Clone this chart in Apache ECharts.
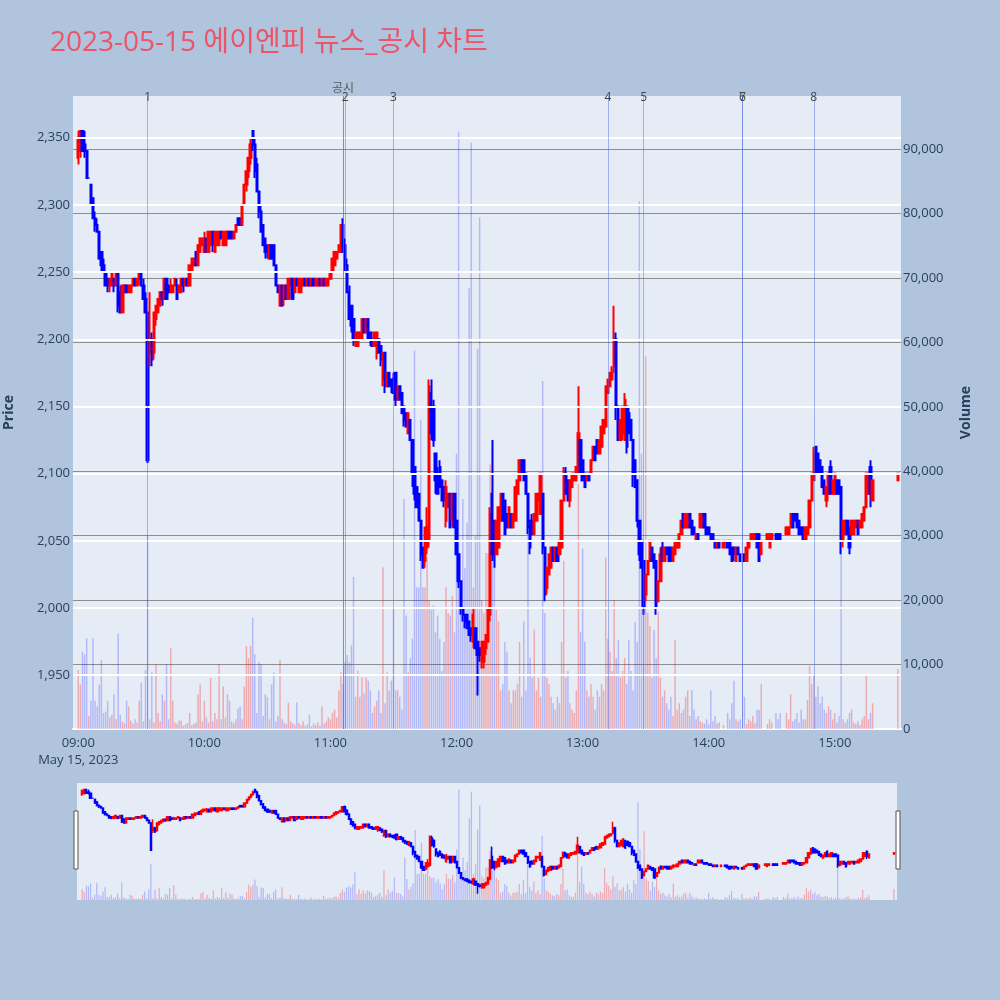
<!DOCTYPE html>
<html><head><meta charset="utf-8">
<script src="https://cdn.jsdelivr.net/npm/echarts@6/dist/echarts.min.js"></script>
<style>html,body{margin:0;padding:0;background:#B0C4DE}#c{width:1000px;height:1000px}</style>
</head><body><div id="c"></div>
<script>
// ---- data (one row per minute from 09:00; [open, close, low, high]) ----
const firstCategory = '08:58';
const categoryCount = 394;
const dataStart = '09:00';
const candles = [
[2335,2350,2330,2355],[2340,2355,2335,2355],[2355,2340,2340,2355],[2345,2340,2335,2355],[2340,2320,2320,2340],
[2320,2320,2320,2320],[2315,2300,2300,2315],[2305,2290,2290,2305],[2290,2285,2280,2295],[2285,2280,2280,2290],
[2280,2260,2260,2280],[2265,2255,2250,2265],[2255,2250,2250,2260],[2250,2240,2240,2250],[2245,2240,2235,2245],
[2240,2245,2235,2245],[2240,2250,2240,2250],[2245,2240,2235,2245],[2240,2250,2240,2250],[2250,2225,2220,2250],
[2235,2220,2220,2240],[2220,2240,2220,2240],[2235,2240,2235,2240],[2240,2235,2235,2240],[2235,2240,2235,2240],
[2235,2240,2235,2240],[2240,2245,2240,2245],[2245,2240,2240,2245],[2240,2245,2240,2245],[2245,2250,2240,2250],
[2250,2240,2240,2250],[2240,2230,2230,2245],[2230,2220,2220,2235],[2220,2110,2108,2220],[2190,2200,2180,2235],
[2200,2185,2180,2205],[2190,2220,2185,2220],[2215,2225,2210,2225],[2220,2230,2220,2230],[2225,2235,2225,2235],
[2235,2230,2225,2235],[2230,2245,2230,2245],[2245,2230,2230,2245],[2240,2235,2235,2240],[2235,2240,2235,2245],
[2235,2240,2235,2240],[2240,2245,2240,2245],[2240,2230,2230,2245],[2235,2240,2235,2240],[2235,2245,2235,2245],
[2245,2240,2235,2245],[2240,2245,2240,2245],[2245,2240,2240,2245],[2240,2255,2240,2255],[2250,2260,2250,2260],
[2255,2260,2255,2260],[2265,2255,2255,2265],[2255,2270,2255,2270],[2265,2275,2265,2275],[2270,2275,2270,2275],
[2265,2275,2265,2280],[2275,2265,2265,2275],[2265,2280,2265,2280],[2270,2280,2270,2280],[2280,2270,2265,2280],
[2265,2280,2265,2280],[2270,2280,2270,2280],[2270,2280,2270,2280],[2280,2275,2275,2280],[2270,2280,2270,2280],
[2270,2280,2270,2280],[2275,2280,2275,2280],[2280,2275,2275,2280],[2280,2275,2275,2280],[2275,2280,2275,2280],
[2280,2285,2280,2285],[2290,2285,2285,2290],[2290,2285,2285,2290],[2285,2300,2285,2300],[2300,2315,2300,2315],
[2315,2325,2310,2325],[2325,2335,2320,2335],[2335,2345,2330,2350],[2355,2345,2340,2355],[2345,2325,2320,2350],
[2330,2310,2310,2335],[2310,2295,2290,2310],[2295,2280,2280,2300],[2285,2270,2270,2285],[2275,2265,2260,2275],
[2270,2265,2260,2270],[2260,2270,2260,2270],[2270,2260,2260,2270],[2270,2255,2255,2270],[2255,2240,2240,2255],
[2240,2235,2235,2240],[2225,2240,2225,2240],[2240,2225,2225,2240],[2230,2240,2225,2240],[2240,2230,2230,2240],
[2230,2245,2230,2245],[2240,2245,2240,2245],[2245,2230,2230,2245],[2235,2245,2235,2245],[2245,2240,2240,2245],
[2235,2245,2235,2245],[2235,2245,2235,2245],[2240,2245,2240,2245],[2245,2240,2240,2245],[2240,2245,2240,2245],
[2245,2240,2240,2245],[2240,2245,2240,2245],[2245,2240,2240,2245],[2240,2245,2240,2245],[2240,2245,2240,2245],
[2245,2240,2240,2245],[2240,2245,2240,2245],[2245,2240,2240,2245],[2240,2245,2240,2245],[2240,2245,2240,2245],
[2245,2250,2245,2250],[2250,2260,2250,2260],[2255,2265,2255,2265],[2260,2265,2260,2265],[2265,2270,2265,2270],
[2265,2285,2265,2285],[2285,2265,2265,2290],[2270,2255,2250,2275],[2255,2235,2235,2260],[2235,2215,2215,2240],
[2225,2210,2205,2225],[2215,2200,2195,2215],[2195,2205,2195,2205],[2195,2205,2195,2205],[2200,2205,2200,2205],
[2200,2215,2200,2215],[2215,2205,2205,2215],[2205,2215,2205,2215],[2215,2200,2200,2215],[2205,2200,2195,2205],
[2200,2195,2195,2200],[2195,2205,2195,2205],[2190,2205,2185,2205],[2200,2190,2190,2200],[2195,2185,2180,2195],
[2170,2190,2165,2190],[2190,2165,2160,2190],[2165,2175,2165,2175],[2175,2165,2165,2175],[2170,2165,2160,2170],
[2170,2160,2160,2175],[2175,2155,2150,2175],[2155,2165,2155,2165],[2165,2155,2155,2165],[2160,2145,2145,2160],
[2150,2140,2135,2150],[2145,2135,2135,2145],[2130,2145,2130,2145],[2140,2125,2125,2140],[2125,2100,2090,2125],
[2105,2085,2080,2105],[2090,2075,2075,2090],[2085,2065,2065,2085],[2065,2040,2035,2065],[2045,2030,2030,2045],
[2035,2060,2030,2060],[2045,2060,2040,2075],[2050,2165,2045,2170],[2160,2130,2125,2170],[2150,2125,2120,2155],
[2115,2095,2085,2115],[2100,2085,2085,2105],[2105,2090,2090,2110],[2095,2080,2080,2095],[2090,2080,2075,2090],
[2065,2090,2060,2095],[2075,2085,2075,2085],[2085,2060,2060,2085],[2065,2085,2060,2085],[2085,2060,2060,2085],
[2065,2040,2040,2065],[2040,2020,2015,2040],[2020,2000,1995,2020],[2000,1995,1990,2000],[1995,1990,1985,1995],
[1995,1985,1985,1995],[1990,1980,1980,1990],[1985,1980,1975,1985],[1975,1995,1970,2000],[1985,1970,1970,1985],
[1975,1965,1935,1975],[1970,1965,1960,1970],[1960,1975,1955,1975],[1960,1975,1955,1975],[1970,1980,1965,1980],
[1975,2000,1975,2000],[1995,2070,1990,2075],[2085,2040,2035,2125],[2065,2040,2030,2065],[2040,2065,2040,2065],
[2045,2075,2045,2075],[2065,2085,2065,2085],[2085,2065,2065,2085],[2080,2055,2055,2080],[2070,2060,2060,2070],
[2060,2075,2060,2075],[2070,2060,2060,2070],[2060,2070,2060,2070],[2065,2090,2065,2090],[2085,2095,2085,2095],
[2095,2110,2095,2110],[2110,2100,2100,2110],[2110,2095,2095,2110],[2100,2085,2085,2100],[2085,2060,2055,2085],
[2065,2045,2040,2065],[2065,2055,2055,2070],[2055,2070,2055,2070],[2065,2085,2065,2085],[2080,2085,2080,2085],
[2070,2100,2070,2100],[2085,2045,2040,2085],[2045,2010,2005,2045],[2015,2030,2010,2030],[2025,2040,2025,2040],
[2030,2045,2030,2045],[2045,2035,2035,2045],[2035,2045,2035,2045],[2045,2035,2035,2045],[2040,2050,2040,2050],
[2045,2080,2045,2080],[2080,2100,2080,2105],[2100,2085,2085,2105],[2095,2080,2080,2095],[2080,2095,2075,2095],
[2090,2100,2090,2100],[2095,2100,2095,2100],[2095,2105,2095,2105],[2100,2130,2100,2165],[2125,2100,2100,2125],
[2110,2095,2095,2110],[2100,2090,2090,2100],[2095,2100,2095,2100],[2100,2095,2095,2100],[2100,2110,2100,2110],
[2110,2120,2110,2120],[2120,2110,2110,2120],[2125,2115,2115,2125],[2115,2125,2115,2125],[2120,2135,2120,2135],
[2130,2140,2130,2140],[2135,2165,2135,2165],[2160,2170,2160,2170],[2165,2175,2165,2175],[2170,2175,2170,2180],
[2180,2200,2175,2225],[2200,2150,2140,2205],[2150,2125,2125,2150],[2125,2140,2125,2140],[2130,2150,2125,2150],
[2125,2155,2125,2160],[2150,2120,2115,2150],[2145,2130,2130,2150],[2140,2125,2125,2140],[2125,2100,2090,2125],
[2110,2090,2090,2110],[2095,2065,2060,2095],[2065,2040,2035,2065],[2050,2030,2030,2050],[2035,2000,1995,2035],
[2010,2025,2005,2025],[2025,2035,2025,2035],[2035,2050,2035,2050],[2045,2035,2035,2045],[2040,2030,2030,2040],
[2035,2000,1995,2035],[2005,2020,2005,2020],[2020,2040,2020,2045],[2045,2035,2035,2050],[2035,2045,2035,2045],
[2045,2040,2040,2045],[2045,2035,2035,2045],[2045,2035,2035,2045],[2035,2045,2035,2045],[2040,2050,2040,2050],
[2045,2050,2045,2050],[2045,2055,2045,2055],[2055,2065,2055,2065],[2070,2060,2060,2070],[2060,2070,2060,2070],
[2060,2070,2060,2070],[2070,2060,2060,2070],[2065,2055,2055,2065],[2060,2055,2055,2060],[2050,2055,2050,2055],
[2055,2050,2050,2055],[2060,2070,2060,2070],[2060,2070,2060,2070],[2070,2060,2060,2070],[2060,2055,2055,2060],
[2060,2055,2055,2060],[2055,2050,2050,2055],[2055,2050,2050,2055],[2050,2045,2045,2050],[2045,2050,2045,2050],
[2050,2045,2045,2050],null,[2045,2050,2045,2050],null,[2050,2045,2045,2050],
[2050,2040,2040,2050],[2045,2035,2035,2045],[2045,2040,2035,2045],[2035,2045,2035,2045],[2045,2040,2040,2045],
[2040,2035,2035,2040],null,[2040,2035,2035,2040],[2035,2045,2035,2045],[2045,2050,2045,2050],
[2050,2055,2050,2055],[2050,2055,2050,2055],[2050,2055,2050,2055],[2055,2045,2045,2055],[2055,2035,2035,2055],
[2040,2050,2040,2050],null,null,[2050,2055,2050,2055],[2045,2055,2045,2055],
[2050,2055,2050,2055],null,[2055,2050,2050,2055],[2055,2050,2050,2055],[2055,2050,2050,2055],
null,null,[2055,2060,2055,2060],[2055,2060,2055,2060],[2060,2070,2060,2070],
[2070,2060,2060,2070],[2070,2065,2065,2070],[2070,2060,2060,2070],[2065,2055,2055,2065],[2060,2055,2055,2060],
[2060,2050,2050,2060],[2050,2060,2050,2060],[2055,2060,2055,2060],[2060,2080,2060,2080],[2080,2100,2080,2100],
[2095,2115,2095,2120],[2120,2100,2100,2120],[2115,2100,2100,2115],[2110,2100,2100,2110],[2105,2090,2090,2105],
[2095,2085,2085,2095],[2080,2090,2075,2090],[2085,2100,2085,2100],[2105,2085,2085,2110],[2085,2095,2085,2095],
[2085,2100,2085,2100],[2095,2085,2085,2095],[2095,2085,2085,2095],[2090,2050,2040,2090],[2050,2065,2045,2065],
[2055,2065,2055,2065],[2065,2055,2055,2065],[2060,2045,2040,2060],[2055,2065,2055,2065],[2055,2065,2055,2065],
[2060,2065,2060,2065],[2065,2055,2055,2065],[2060,2065,2060,2065],[2060,2070,2060,2070],[2065,2075,2065,2075],
[2075,2100,2075,2100],[2085,2100,2085,2100],[2105,2085,2075,2110],[2080,2095,2080,2095],null,
null,null,null,null,null,
null,null,null,null,null,
[2095,2100,2095,2100]
];
const volumes = [
9100,6900,12000,11600,14100,2000,4400,14100,4400,3500,
6900,10700,2500,2700,4400,1800,2200,5400,1500,14800,
2200,1200,900,4400,3500,1300,800,1500,1000,4400,
7200,1200,9100,30000,1500,8800,1000,10100,2500,1200,
5400,4400,10100,1500,12600,4400,1000,800,1300,1300,
500,700,900,2500,600,800,1000,5400,6900,1200,
4400,1800,1000,7900,1200,2500,1500,10100,1500,6600,
1800,5400,4400,1200,900,1500,3200,3500,1500,6600,
12900,11000,12900,17300,11600,2500,10400,10100,2000,5400,
5000,1500,6900,8800,1200,2000,10700,1500,1000,800,
4100,1200,900,700,4100,900,600,1200,500,700,
2200,400,900,600,1000,500,3500,800,1200,1800,
1500,2500,3000,1800,6000,8800,7000,10400,11500,10400,
13000,23600,5000,9000,5000,8000,5500,8000,7500,6000,
2500,3500,4400,6000,2500,25100,4000,8800,6000,7500,
18800,6000,6000,5000,3000,35700,17600,8800,11000,14000,
58700,22000,22000,48000,22000,22000,26700,20000,18500,19200,
15000,17600,14000,9000,13500,22000,18000,17600,20700,15000,
42700,92700,18000,35700,25000,32000,68400,91000,22000,30000,
59000,79400,20000,18000,27300,27300,41100,44000,30000,18500,
16700,6000,7000,13500,12000,6000,4000,6000,6000,7000,
13500,5000,16700,6000,30000,11000,8000,15400,6000,8000,
5000,54000,18000,8000,7000,5000,4000,3000,5000,4000,
13500,26100,8000,9000,4000,3000,2500,6000,38000,15000,
28000,13500,6000,5000,7000,5000,3000,6000,5000,7000,
6000,26600,14000,12000,9000,20000,11000,13800,8000,9000,
11000,7000,13800,9000,6000,16600,13500,81900,42700,20000,
57800,18000,16000,8000,15400,11000,18200,8000,5000,6000,
4000,3000,5000,2000,13800,3000,4000,2500,3000,5000,
6000,2000,6000,3000,1500,2000,1200,1000,800,1500,
700,6000,1200,2000,900,1000,null,600,null,2500,
1500,4000,7500,1500,1200,1500,null,5000,800,1500,
1200,2000,900,3000,3000,7000,null,null,800,1500,
1000,null,2500,1500,2500,null,null,2500,1500,5400,
1200,1500,2500,1000,3000,1500,1500,4500,9800,7000,
8500,5000,6600,4000,5000,3000,2500,3500,3000,1500,
2500,1000,2000,29200,1500,1000,1500,2500,3000,1000,
800,1200,600,1500,2000,8500,1500,2500,4000,null,
null,null,null,null,null,null,null,null,null,null,
9300
];
const priceTicks = [1950,2000,2050,2100,2150,2200,2250,2300,2350];
const newsLabels = ['1','2','3','4','5','6','7','8'];
const newsTimes = ['09:33','11:07','11:30','13:12','13:29','14:16','14:16','14:50'];
const disclosureLabel = '공시';
const disclosureTime = '11:06';
const titleText = '2023-05-15 에이엔피 뉴스_공시 차트';
const dateLabel = 'May 15, 2023';

// ---- build categories & series data ----
const pad = n => (n < 10 ? '0' : '') + n;
const toMin = s => parseInt(s.slice(0,2)) * 60 + parseInt(s.slice(3));
const categories = [];
for (let i = 0; i < categoryCount; i++) {
  const t = toMin(firstCategory) + i;
  categories.push(pad(Math.floor(t / 60)) + ':' + pad(t % 60));
}
const offset = toMin(dataStart) - toMin(firstCategory);
const UP = '#ff0000', DOWN = '#0000ff';
const candleData = categories.map((c, i) => {
  const d = candles[i - offset];
  return d ? d.slice() : ['-','-','-','-'];
});
const volData = categories.map((c, i) => {
  const d = candles[i - offset];
  const v = volumes[i - offset];
  if (!d || v == null) return '-';
  const up = d[1] >= d[0];
  return { value: v, itemStyle: { color: up ? 'rgba(255,0,0,0.28)' : 'rgba(0,0,255,0.22)' } };
});

const FONT = "'Open Sans', 'Noto Sans CJK KR', sans-serif";
const tickColor = '#2a3f5f';

const newsMarks = newsTimes.map((t, i) => ({
  xAxis: t,
  lineStyle: { color: 'rgba(70,100,230,0.45)', width: 1, type: 'solid' },
  label: { show: true, position: 'end', formatter: newsLabels[i], color: '#444', fontSize: 12, fontFamily: FONT, distance: -8 }
}));
newsMarks.push({
  xAxis: disclosureTime,
  lineStyle: { color: 'rgba(40,160,40,0.75)', width: 1, type: 'solid' },
  label: { show: true, position: 'end', formatter: disclosureLabel, color: '#555', fontSize: 12, fontFamily: FONT, distance: 1 }
});

const chart = echarts.init(document.getElementById('c'), null, { renderer: 'canvas' });
chart.setOption({
  backgroundColor: '#B0C4DE',
  animation: false,
  textStyle: { fontFamily: FONT },
  title: {
    text: titleText, left: 50, top: 29, padding: 0,
    textStyle: { fontSize: 28, fontWeight: 'normal', color: '#EC5468', fontFamily: FONT }
  },
  grid: [
    { left: 73, top: 96, width: 828, height: 633, show: true, backgroundColor: '#E5ECF6', borderWidth: 0, containLabel: false, outerBoundsMode: 'none' },
    { left: 77, top: 783, width: 820, height: 117, show: true, backgroundColor: '#E5ECF6', borderWidth: 0, containLabel: false, outerBoundsMode: 'none' }
  ],
  xAxis: [
    {
      type: 'category', gridIndex: 0, data: categories, boundaryGap: true,
      axisLine: { show: true, lineStyle: { color: '#ffffff', width: 2 } },
      axisTick: { show: false },
      splitLine: { show: false },
      axisLabel: {
        interval: (idx, val) => val.endsWith(':00'),
        formatter: (val) => val === dataStart ? val + '\n' + dateLabel : val,
        color: tickColor, fontSize: 13, margin: 6, lineHeight: 17, fontFamily: FONT
      }
    },
    {
      type: 'category', gridIndex: 1, data: categories, boundaryGap: true, show: false
    }
  ],
  yAxis: [
    {
      type: 'value', gridIndex: 0, position: 'left', min: 1910, max: 2381, interval: 10,
      name: 'Price', nameLocation: 'middle', nameGap: 57, nameRotate: 90,
      nameTextStyle: { fontSize: 14, fontWeight: 'bold', color: tickColor, fontFamily: FONT },
      axisLine: { show: false }, axisTick: { show: false }, splitLine: { show: false },
      axisLabel: {
        color: tickColor, fontSize: 13, margin: 3, fontFamily: FONT,
        formatter: v => { const r = Math.round(v); return (r % 50 === 0 && r >= 1950 && r <= 2350) ? r.toLocaleString('en-US') : ''; }
      }
    },
    {
      type: 'value', gridIndex: 0, position: 'right', min: 0, max: 98240, interval: 10000,
      name: 'Volume', nameLocation: 'middle', nameGap: 58, nameRotate: 90,
      nameTextStyle: { fontSize: 14, fontWeight: 'bold', color: tickColor, fontFamily: FONT },
      axisLine: { show: false }, axisTick: { show: false },
      splitLine: { show: true, showMinLine: false, showMaxLine: false, lineStyle: { color: '#8e8e8e', width: 1 } },
      axisLabel: {
        color: tickColor, fontSize: 13, margin: 2, fontFamily: FONT,
        formatter: v => { const r = Math.round(v); return (r % 10000 === 0) ? r.toLocaleString('en-US') : ''; }
      }
    },
    { type: 'value', gridIndex: 1, min: 1910, max: 2381, show: false, splitLine: { show: false } },
    { type: 'value', gridIndex: 1, min: 0, max: 98240, show: false, splitLine: { show: false } }
  ],
  graphic: [
    { type: 'rect', shape: { x: 74, y: 811, width: 4, height: 58 }, style: { fill: '#ffffff', stroke: '#555', lineWidth: 1 }, z: 100 },
    { type: 'rect', shape: { x: 896, y: 811, width: 4, height: 58 }, style: { fill: '#ffffff', stroke: '#555', lineWidth: 1 }, z: 100 }
  ],
  series: [
    {
      type: 'line', xAxisIndex: 0, yAxisIndex: 0, data: [], z: 1, silent: true,
      markLine: {
        silent: true, symbol: 'none', animation: false,
        lineStyle: { color: '#ffffff', width: 2, type: 'solid' },
        label: { show: false },
        data: priceTicks.map(v => ({ yAxis: v }))
      }
    },
    {
      type: 'bar', xAxisIndex: 0, yAxisIndex: 1, data: volData, barWidth: '70%', z: 2, silent: true
    },
    {
      type: 'candlestick', xAxisIndex: 0, yAxisIndex: 0, data: candleData, z: 3, barWidth: '85%',
      itemStyle: { color: UP, color0: DOWN, borderColor: UP, borderColor0: DOWN, borderWidth: 2, borderColorDoji: DOWN },
      markLine: { silent: true, symbol: 'none', animation: false, data: newsMarks }
    },
    {
      type: 'bar', xAxisIndex: 1, yAxisIndex: 3, data: volData, barWidth: '60%', z: 2, silent: true
    },
    {
      type: 'candlestick', xAxisIndex: 1, yAxisIndex: 2, data: candleData, z: 3, barWidth: '80%', silent: true,
      itemStyle: { color: UP, color0: DOWN, borderColor: UP, borderColor0: DOWN, borderWidth: 1.5, borderColorDoji: DOWN }
    }
  ]
});
</script></body></html>
